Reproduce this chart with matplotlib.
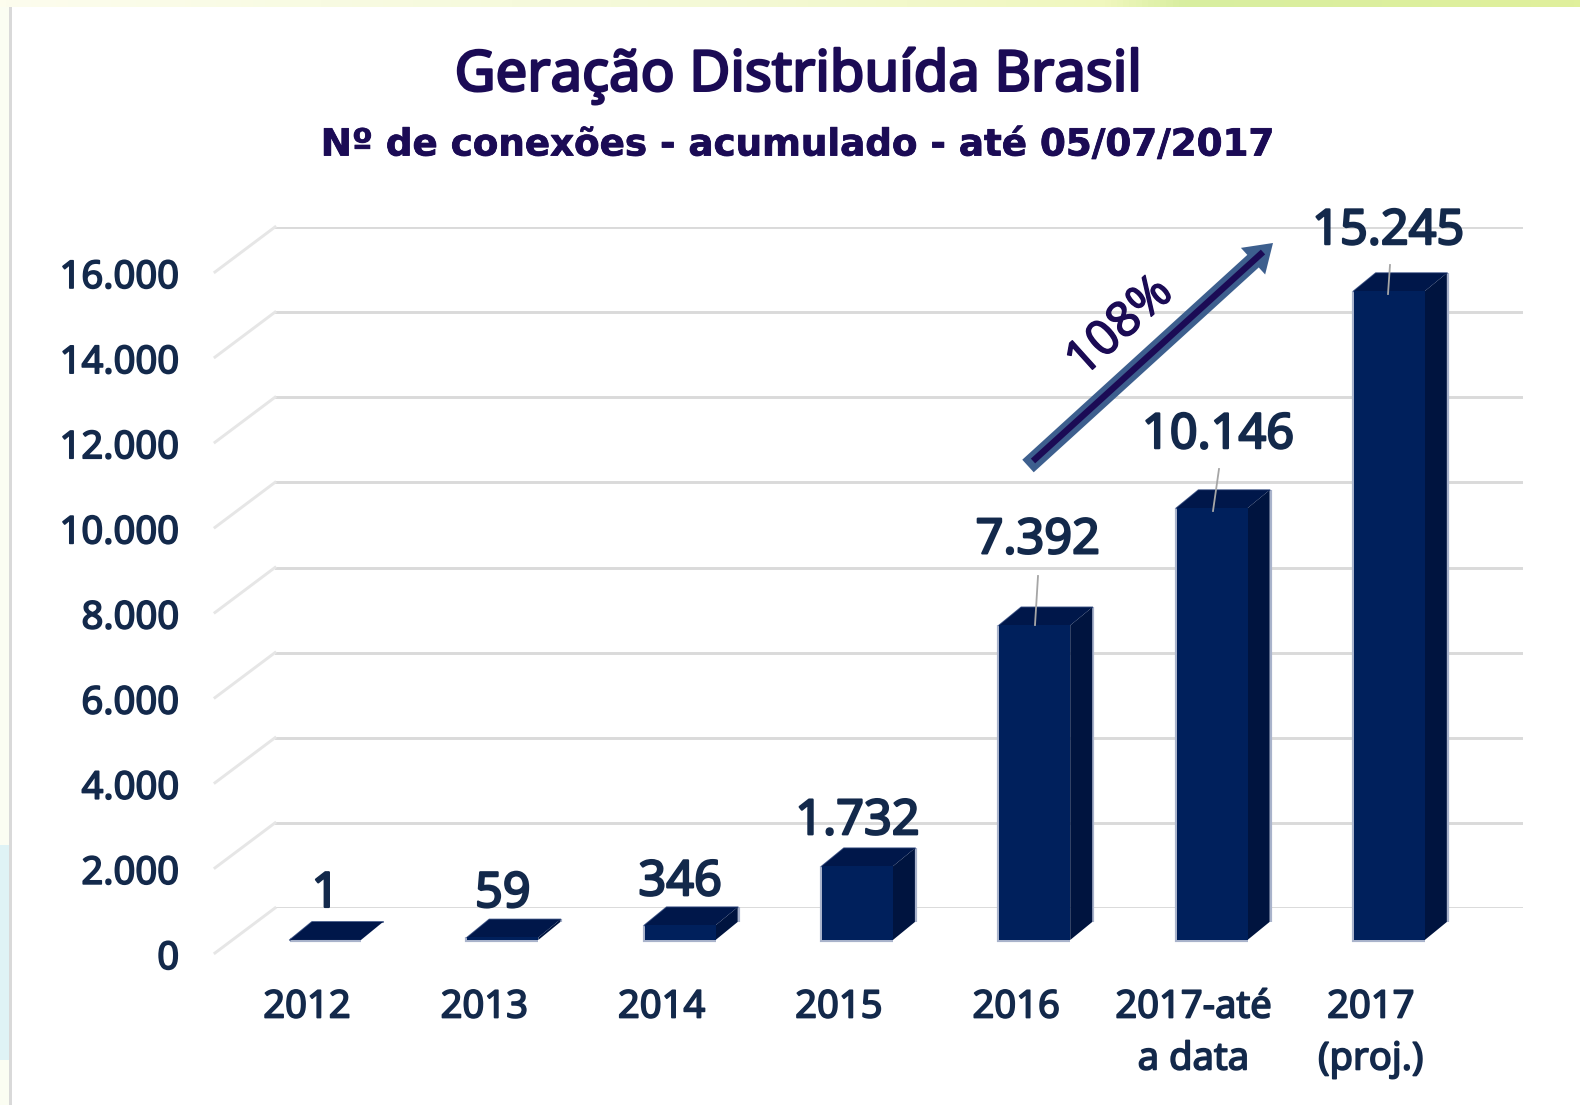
import numpy as np
import matplotlib
matplotlib.use("Agg")
import matplotlib.pyplot as plt
import matplotlib.patheffects as pe
from matplotlib.patches import Polygon, Rectangle, FancyArrow
from matplotlib.lines import Line2D
from matplotlib.transforms import Affine2D, IdentityTransform

categories = ["2012", "2013", "2014", "2015", "2016", "2017-até\na data", "2017\n(proj.)"]
values = [1, 59, 346, 1732, 7392, 10146, 15245]
value_labels = ["1", "59", "346", "1.732", "7.392", "10.146", "15.245"]
y_ticks = [0, 2000, 4000, 6000, 8000, 10000, 12000, 14000, 16000]
y_tick_labels = ["0", "2.000", "4.000", "6.000", "8.000", "10.000", "12.000", "14.000", "16.000"]
title = "Geração Distribuída Brasil"
subtitle = "Nº de conexões - acumulado - até 05/07/2017"
growth_label = "108%"

W, H = 1580, 1105
FONT = "Noto Sans"
TXT = "#13294B"
INK = "#1B0B55"
fig = plt.figure(figsize=(W / 100, H / 100), dpi=100, facecolor="white")

def D(x, y):
    return x, H - y

def add_px(artist):
    artist.set_transform(IdentityTransform())
    fig.add_artist(artist)
    return artist

def heavy(artist, color, width=1.2):
    artist.set_path_effects([pe.withStroke(linewidth=width, foreground=color)])

# decoration: page background edges
bg = fig.add_axes([0, 0, 1, 1], zorder=-5)
bg.axis("off")
top = np.zeros((1, 256, 3))
stops_x = [0, .2, .45, .7, .75, 1]
stops = np.array([[253, 253, 238], [248, 251, 226], [244, 249, 214], [240, 247, 190], [216, 238, 160], [224, 240, 156]]) / 255
for c in range(3):
    top[0, :, c] = np.interp(np.linspace(0, 1, 256), stops_x, stops[:, c])
bg.imshow(top, extent=[0, W, H, H - 7], aspect="auto", zorder=1)
bg.set_xlim(0, W); bg.set_ylim(0, H)
bg.add_patch(Rectangle((0, 0), 9, H - 7, color="#FBFDF2", lw=0))
bg.add_patch(Rectangle((0, H - 1060), 9, 215, color="#DFF3F5", lw=0))
bg.add_patch(Rectangle((9, 0), 3, H - 7, color="#D9D9D9", lw=0))

# main axes: back wall of the 3-D chart
L, R, Y0, Y16 = 275, 1523, 908, 227
ax = fig.add_axes([L / W, 1 - Y0 / H, (R - L) / W, (Y0 - Y16) / H], facecolor="none")
unit = 177.3
xs = np.arange(len(categories))
ax.set_xlim(-(325.5 - L) / unit, (R - 325.5) / unit)
ax.set_ylim(0, 16000)
for s in ax.spines.values():
    s.set_visible(False)
ax.set_yticks(y_ticks, y_tick_labels)
ax.set_xticks(xs, categories)
ax.grid(axis="y", color="#DADADA", lw=2.1)
ax.grid(axis="x", visible=False)
ax.set_axisbelow(True)
ax.tick_params(axis="both", length=0)
ax.tick_params(axis="y", pad=69, labelsize=27.5, labelcolor=TXT)
ax.tick_params(axis="x", pad=58, labelsize=27.5, labelcolor=TXT)
for t in ax.get_yticklabels():
    t.set_fontfamily(FONT)
    heavy(t, TXT)
    t.set_transform(t.get_transform() + Affine2D().translate(0, -46.5))
for t in ax.get_xticklabels():
    t.set_fontfamily(FONT); t.set_linespacing(1.48)
    heavy(t, TXT)
    t.set_transform(t.get_transform() + Affine2D().translate(-18.5, 0))

# slanted wall lines
fig.canvas.draw()
for v in y_ticks:
    px, py = ax.transData.transform((ax.get_xlim()[0], v))
    add_px(Line2D([px - 60, px], [py - 45, py], color="#E6E6E6", lw=2.1, zorder=0.5))

# bars
bw = 71 / unit
dx, dy = 22, 18   # depth offset
base_drop = 32
front_c, side_c, top_c = "#00205C", "#00143F", "#00174A"
EDGE = "#A9B3CB"
for x, v in zip(xs, values):
    (x0, y0), (x1, y1) = ax.transData.transform([(x - bw / 2, 0), (x + bw / 2, v)])
    y0 -= base_drop; y1 -= base_drop
    for seg in ([(x0, y1), (x0, y0), (x1, y0)], [(x1 + dx, y0 + dy), (x1 + dx, y1 + dy)]):
        px_, py_ = zip(*seg)
        ax.add_line(Line2D(px_, py_, transform=IdentityTransform(), color=EDGE, lw=3, zorder=3,
                           clip_on=False, solid_capstyle="butt", solid_joinstyle="miter"))
    ax.add_patch(Polygon([(x1, y0), (x1 + dx, y0 + dy), (x1 + dx, y1 + dy), (x1, y1)], closed=True,
                         transform=IdentityTransform(), fc=side_c, ec="none", zorder=3.1, clip_on=False))
    ax.add_patch(Polygon([(x0, y1), (x1, y1), (x1 + dx, y1 + dy), (x0 + dx, y1 + dy)], closed=True,
                         transform=IdentityTransform(), fc=top_c, ec="none", zorder=3.1, clip_on=False))
    ax.add_line(Line2D([x0, x0 + dx, x1 + dx], [y1, y1 + dy, y1 + dy], transform=IdentityTransform(),
                       color="#3F5586", lw=1.2, zorder=3.05, clip_on=False))
bars = ax.bar(xs, values, width=bw, color=front_c, zorder=3.2,
              transform=ax.transData + Affine2D().translate(0, -base_drop))
for b in bars:
    b.set_clip_on(False)
ax.set_xlim(-(325.5 - L) / unit, (R - 325.5) / unit)
ax.set_ylim(0, 16000)

# value labels
label_offsets = [(0, 20), (0, 17.5), (0, 17), (0, 19), (3, 59), (6, 47), (-1, 34)]
for x, v, s, (ox, oy) in zip(xs, values, value_labels, label_offsets):
    a = ax.annotate(s, (x, v), xytext=(ox * 0.72, oy * 0.72), textcoords="offset points",
                    ha="center", va="center_baseline", fontsize=35, family=FONT,
                    color=TXT, zorder=6, annotation_clip=False)
    heavy(a, TXT, 1.6)

# leader lines
for a, b in [((1038, 576), (1035, 625)), ((1219, 469), (1213, 511)), ((1390, 265), (1388, 294))]:
    pa, pb = D(*a), D(*b)
    add_px(Line2D([pa[0], pb[0]], [pa[1], pb[1]], color="#A6A6A6", lw=1.3, zorder=7))

# growth arrow
ax_s, ax_e = D(1028, 466), D(1273, 243)
add_px(FancyArrow(ax_s[0], ax_s[1], ax_e[0] - ax_s[0], ax_e[1] - ax_s[1], width=17, head_width=36,
                  head_length=27, length_includes_head=True, fc="#3D5F8E", ec="none", zorder=6))
ins, ine = D(1033, 461), D(1263, 252)
add_px(Line2D([ins[0], ine[0]], [ins[1], ine[1]], color=INK, lw=4.6, zorder=7, solid_capstyle="butt"))
t = fig.text(1120 / W, 1 - 327 / H, growth_label, rotation=42, rotation_mode="anchor", ha="center", va="center",
             fontsize=35, family=FONT, color=INK, zorder=8)
heavy(t, INK, 1.0)

# titles
t = fig.text(798 / W, 1 - 76 / H, title, ha="center", va="center", fontsize=40.5,
             family=FONT, color=INK)
heavy(t, INK, 1.8)
t = fig.text(798 / W, 1 - 145 / H, subtitle, ha="center", va="center", fontsize=26.8,
             fontweight="bold", family="DejaVu Sans", color=INK)
heavy(t, INK, 0.6)

fig.savefig("out.png", dpi=100)
